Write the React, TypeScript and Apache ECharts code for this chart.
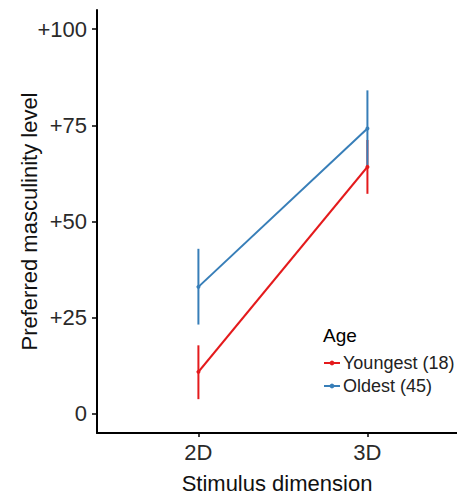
import React, { useEffect, useRef } from "react";
import * as echarts from "echarts";

const categories = ["2D", "3D"];
const youngMean = [10.9, 64.2];
const youngLow = [3.8, 57.2];
const youngHigh = [17.8, 71.2];
const oldMean = [33.0, 74.2];
const oldLow = [23.2, 64.3];
const oldHigh = [42.9, 84.1];
const yTicks = [0, 25, 50, 75, 100];
const seriesNames = ["Youngest (18)", "Oldest (45)"];
const RED = "#E41A1C";
const BLUE = "#377EB8";
const FONT = "Liberation Sans";

function errData(low: number[], high: number[]) {
  return categories.map((_, i) => [i + 1, low[i], high[i]]);
}
function lineData(mean: number[]) {
  return categories.map((_, i) => [i + 1, mean[i]]);
}

function errSeries(low: number[], high: number[], color: string, z: number) {
  return {
    type: "custom",
    z,
    data: errData(low, high),
    encode: { x: 0, y: [1, 2] },
    renderItem: (params: any, api: any) => {
      const x = api.value(0);
      const p1 = api.coord([x, api.value(1)]);
      const p2 = api.coord([x, api.value(2)]);
      return {
        type: "line",
        shape: { x1: p1[0], y1: p1[1], x2: p2[0], y2: p2[1] },
        style: { stroke: color, lineWidth: 2 },
      };
    },
  };
}

export default function App() {
  const ref = useRef<HTMLDivElement>(null);
  useEffect(() => {
    if (!ref.current) return;
    const chart = echarts.init(ref.current, null, { renderer: "svg" });
    chart.setOption({
      animation: false,
      backgroundColor: "#ffffff",
      textStyle: { fontFamily: FONT },
      grid: { left: 97, right: 0, top: 10, bottom: 63, containLabel: false, outerBoundsMode: "none" },
      xAxis: {
        type: "value",
        min: 0.4,
        max: 2.53,
        name: "Stimulus dimension",
        nameLocation: "middle",
        nameGap: 39,
        nameMoveOverlap: false,
        nameTextStyle: { fontSize: 22, color: "#111", fontFamily: FONT },
        axisLine: { onZero: false, lineStyle: { color: "#000", width: 2 } },
        axisTick: { show: true, length: 4, customValues: [1, 2], lineStyle: { color: "#000", width: 1.5 } },
        axisLabel: {
          customValues: [1, 2],
          formatter: (v: number) => categories[Math.round(v) - 1] ?? "",
          fontSize: 22,
          color: "#2a2a2a",
          margin: 8,
          fontFamily: FONT,
        },
        splitLine: { show: false },
      },
      yAxis: {
        type: "value",
        min: -5,
        max: 105,
        name: "Preferred masculinity level",
        nameLocation: "middle",
        nameGap: 57,
        nameMoveOverlap: false,
        nameTextStyle: { fontSize: 22, color: "#111", fontFamily: FONT },
        axisLine: { show: true, onZero: false, lineStyle: { color: "#000", width: 2 } },
        axisTick: { show: true, length: 5, customValues: yTicks, lineStyle: { color: "#000", width: 1.5 } },
        axisLabel: {
          customValues: yTicks,
          formatter: (v: number) => (v === 0 ? "0" : "+" + v),
          fontSize: 22,
          color: "#2a2a2a",
          margin: 10,
          fontFamily: FONT,
        },
        splitLine: { show: false },
      },
      legend: {
        orient: "vertical",
        left: 318,
        top: 349,
        data: seriesNames,
        itemWidth: 16,
        itemHeight: 6,
        itemGap: 5,
        textStyle: { fontSize: 18, color: "#222", fontFamily: FONT, padding: [0, 0, 0, -2] },
      },
      graphic: [
        {
          type: "text",
          left: 323,
          top: 326,
          style: { text: "Age", fontSize: 19, fill: "#000", fontFamily: FONT },
        },
      ],
      series: [
        errSeries(youngLow, youngHigh, RED, 2),
        errSeries(oldLow, oldHigh, BLUE, 3),
        {
          name: seriesNames[0],
          type: "line",
          z: 4,
          data: lineData(youngMean),
          color: RED,
          lineStyle: { width: 2.2, color: RED },
          itemStyle: { color: RED },
          symbol: "circle",
          symbolSize: 4,
        },
        {
          name: seriesNames[1],
          type: "line",
          z: 4,
          data: lineData(oldMean),
          color: BLUE,
          lineStyle: { width: 2, color: BLUE },
          itemStyle: { color: BLUE },
          symbol: "circle",
          symbolSize: 4,
        },
      ],
    });
    return () => chart.dispose();
  }, []);
  return (
    <div
      ref={ref}
      style={{ position: "fixed", left: 0, top: 0, width: 457, height: 496, background: "#fff" }}
    />
  );
}
